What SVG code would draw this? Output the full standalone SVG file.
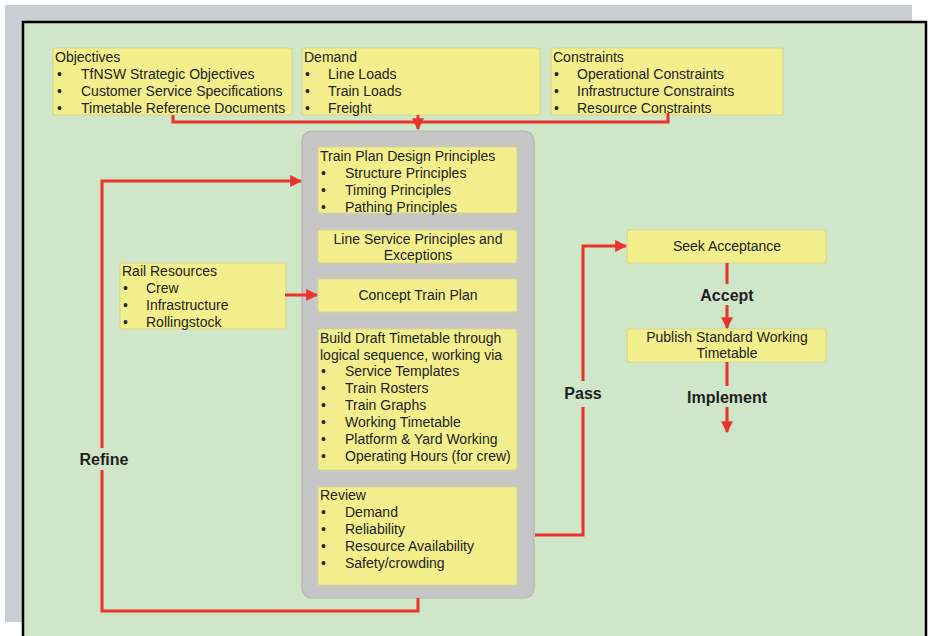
<svg xmlns="http://www.w3.org/2000/svg" width="931" height="636" viewBox="0 0 931 636">
<style>
.box{fill:#f3ef8c;stroke:#d9d58e;stroke-width:1.2}
.t{font-family:"Liberation Sans",Arial,sans-serif;font-size:14px;fill:#222}
.c{text-anchor:middle}
.lbl{font-family:"Liberation Sans",Arial,sans-serif;font-size:16px;font-weight:bold;fill:#1e1e1e;text-anchor:middle}
.con{fill:none;stroke:#e8342a;stroke-width:3}
</style>
<defs>
<marker id="ah" viewBox="0 0 10 10" refX="9" refY="5" markerWidth="4" markerHeight="4" orient="auto" markerUnits="strokeWidth">
<path d="M0,0 L10,5 L0,10 Z" fill="#e8342a"/>
</marker>
</defs>
<rect x="5" y="5" width="907" height="617" fill="#cacdd1"/>
<rect x="23" y="22" width="903" height="620" fill="#cfe6c9" stroke="#000" stroke-width="2.5"/>

<g id="container"><rect x="302" y="131" width="232" height="467" rx="10" fill="#c6c6c6" stroke="#b2b2b2" stroke-width="1.2"/></g>

<g id="objectives">
<rect class="box" x="53" y="48" width="239" height="67" rx="2"/>
<text class="t" x="55" y="62">Objectives</text>
<text class="t" x="57" y="79">•</text><text class="t" x="81" y="79">TfNSW Strategic Objectives</text>
<text class="t" x="57" y="96">•</text><text class="t" x="81" y="96">Customer Service Specifications</text>
<text class="t" x="57" y="113">•</text><text class="t" x="81" y="113">Timetable Reference Documents</text>
</g>
<g id="demand">
<rect class="box" x="302" y="48" width="238" height="67" rx="2"/>
<text class="t" x="304" y="62">Demand</text>
<text class="t" x="305" y="79">•</text><text class="t" x="328" y="79">Line Loads</text>
<text class="t" x="305" y="96">•</text><text class="t" x="328" y="96">Train Loads</text>
<text class="t" x="305" y="113">•</text><text class="t" x="328" y="113">Freight</text>
</g>
<g id="constraints">
<rect class="box" x="551" y="48" width="232" height="67" rx="2"/>
<text class="t" x="553" y="62">Constraints</text>
<text class="t" x="554" y="79">•</text><text class="t" x="577" y="79">Operational Constraints</text>
<text class="t" x="554" y="96">•</text><text class="t" x="577" y="96">Infrastructure Constraints</text>
<text class="t" x="554" y="113">•</text><text class="t" x="577" y="113">Resource Constraints</text>
</g>

<g id="design-principles">
<rect class="box" x="318" y="147" width="199" height="66" rx="2"/>
<text class="t" x="320" y="161">Train Plan Design Principles</text>
<text class="t" x="321" y="178">•</text><text class="t" x="345" y="178">Structure Principles</text>
<text class="t" x="321" y="195">•</text><text class="t" x="345" y="195">Timing Principles</text>
<text class="t" x="321" y="212">•</text><text class="t" x="345" y="212">Pathing Principles</text>
</g>
<g id="line-service">
<rect class="box" x="318" y="230" width="199" height="33" rx="2"/>
<text class="t c" x="418" y="244">Line Service Principles and</text>
<text class="t c" x="418" y="260">Exceptions</text>
</g>
<g id="concept">
<rect class="box" x="318" y="279" width="199" height="33" rx="2"/>
<text class="t c" x="418" y="300">Concept Train Plan</text>
</g>
<g id="build-draft">
<rect class="box" x="318" y="329" width="199" height="141" rx="2"/>
<text class="t" x="320" y="343">Build Draft Timetable through</text>
<text class="t" x="320" y="360">logical sequence, working via</text>
<text class="t" x="321" y="376">•</text><text class="t" x="345" y="376">Service Templates</text>
<text class="t" x="321" y="393">•</text><text class="t" x="345" y="393">Train Rosters</text>
<text class="t" x="321" y="410">•</text><text class="t" x="345" y="410">Train Graphs</text>
<text class="t" x="321" y="427">•</text><text class="t" x="345" y="427">Working Timetable</text>
<text class="t" x="321" y="444">•</text><text class="t" x="345" y="444">Platform &amp; Yard Working</text>
<text class="t" x="321" y="461">•</text><text class="t" x="345" y="461">Operating Hours (for crew)</text>
</g>
<g id="review">
<rect class="box" x="318" y="487" width="199" height="98" rx="2"/>
<text class="t" x="320" y="500">Review</text>
<text class="t" x="321" y="517">•</text><text class="t" x="345" y="517">Demand</text>
<text class="t" x="321" y="534">•</text><text class="t" x="345" y="534">Reliability</text>
<text class="t" x="321" y="551">•</text><text class="t" x="345" y="551">Resource Availability</text>
<text class="t" x="321" y="568">•</text><text class="t" x="345" y="568">Safety/crowding</text>
</g>
<g id="rail-resources">
<rect class="box" x="120" y="263" width="166" height="66" rx="2"/>
<text class="t" x="122" y="276">Rail Resources</text>
<text class="t" x="123" y="293">•</text><text class="t" x="146" y="293">Crew</text>
<text class="t" x="123" y="310">•</text><text class="t" x="146" y="310">Infrastructure</text>
<text class="t" x="123" y="327">•</text><text class="t" x="146" y="327">Rollingstock</text>
</g>
<g id="seek-acceptance">
<rect class="box" x="627" y="230" width="199" height="33" rx="2"/>
<text class="t c" x="727" y="251">Seek Acceptance</text>
</g>
<g id="publish">
<rect class="box" x="627" y="329" width="199" height="33" rx="2"/>
<text class="t c" x="727" y="342">Publish Standard Working</text>
<text class="t c" x="727" y="358">Timetable</text>
</g>

<g id="connectors">
<path class="con" d="M173,115 V122 H668 V113"/>
<path class="con" d="M418,115 V129" marker-end="url(#ah)"/>
<path class="con" d="M418,598 V611 H102 V470"/>
<path class="con" d="M102,448 V181 H301" marker-end="url(#ah)"/>
<path class="con" d="M285,295 H317" marker-end="url(#ah)"/>
<path class="con" d="M535,535 H583 V407"/>
<path class="con" d="M583,381 V246 H626" marker-end="url(#ah)"/>
<path class="con" d="M727,263 V284"/>
<path class="con" d="M727,305 V328" marker-end="url(#ah)"/>
<path class="con" d="M727,362 V386"/>
<path class="con" d="M727,407 V432" marker-end="url(#ah)"/>
<text class="lbl" x="727" y="301">Accept</text>
<text class="lbl" x="727" y="403">Implement</text>
<text class="lbl" x="583" y="399">Pass</text>
<text class="lbl" x="104" y="465">Refine</text>
</g>
</svg>
